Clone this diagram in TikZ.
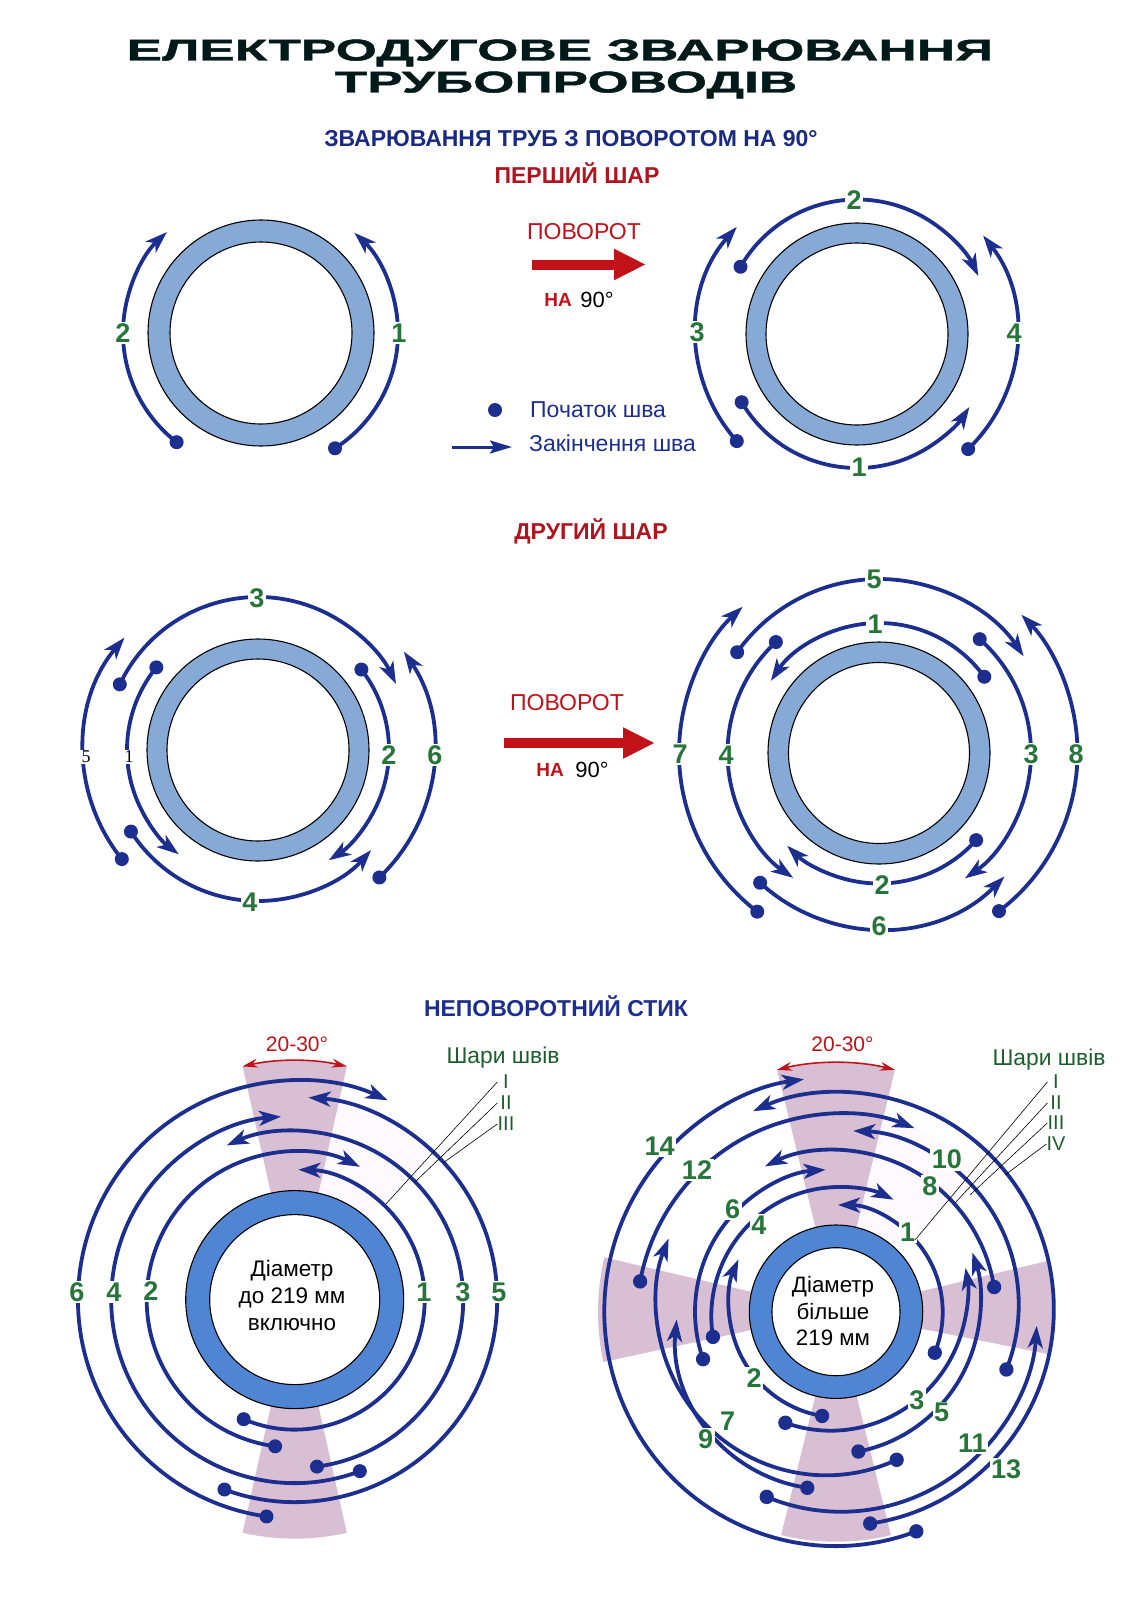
\documentclass[tikz,border=0pt]{standalone}
\usepackage{fontspec}
\setmainfont{Liberation Sans}
\newfontfamily\titlefont[FakeStretch=1.77,FakeBold=1.5]{Liberation Sans}
\newfontfamily\oldnumfont{Liberation Serif}
\usetikzlibrary{arrows.meta}
\definecolor{seamblue}{HTML}{1D2F8E}
\definecolor{numgreen}{HTML}{27753A}
\definecolor{layergreen}{HTML}{1D5F2C}
\definecolor{headred}{HTML}{B0141F}
\definecolor{turnred}{HTML}{C01218}
\definecolor{pipeblue}{HTML}{87A9D6}
\definecolor{pipedeep}{HTML}{4F85D2}
\definecolor{zonepink}{HTML}{D9BFD4}
\definecolor{zonewash}{HTML}{FEF9FC}
\tikzset{
  seamline/.style={line width=3.8pt,seamblue,-{Stealth[length=22pt,width=15pt,inset=6pt]}},
  seamdot/.style={fill=seamblue},
  pipewall/.style={draw=black,line width=1.1pt},
  num/.style={text=numgreen,fill=white,inner sep=1.5pt,font=\fontsize{27}{30}\selectfont\bfseries},
  oldnum/.style={text=black,fill=white,inner sep=1.5pt,font=\fontsize{18}{20}\selectfont\oldnumfont},
  turnarrow/.style={line width=10pt,turnred,-{Triangle[length=32pt,width=29pt]}},
  layerlead/.style={black,line width=0.6pt},
  layernum/.style={text=layergreen,inner sep=0pt,minimum width=17pt,font=\fontsize{20}{20}\selectfont},
  angledim/.style={line width=1.6pt,turnred,{Stealth[length=15pt,width=9pt]}-{Stealth[length=15pt,width=9pt]}}
}
% centre x, centre y, radius, start angle, end angle
\newcommand{\seam}[5]{
  \draw[seamline,shift={(#1,#2)}] (#4:#3) arc[start angle=#4,end angle=#5,radius=#3];
  \fill[seamdot,shift={(#1,#2)}] (#4:#3) circle (7);
}
% sector from the pipe centre: centre, middle angle, half angle, radius
\newcommand{\zone}[6][zonepink]{
  \fill[#1,shift={(#2,#3)}] (0,0) -- (#4-#5:#6) arc[start angle=#4-#5,end angle=#4+#5,radius=#6] -- cycle;
}
\begin{document}
\begin{tikzpicture}[x=1pt,y=1pt,>=Latex]
\useasboundingbox (0,0) rectangle (1131,-1600);
\fill[white] (0,0) rectangle (1131,-1600);

\node[text=black!80!teal,font=\fontsize{30}{32}\selectfont\titlefont\bfseries] (titleone) at (560,-53) {ЕЛЕКТРОДУГОВЕ ЗВАРЮВАННЯ};
\node[text=black!80!teal,font=\fontsize{30}{32}\selectfont\titlefont\bfseries] (titletwo) at (566,-85) {ТРУБОПРОВОДІВ};
\node[text=seamblue!90!black,font=\fontsize{23}{25}\selectfont\bfseries] (rotatehead) at (571,-139) {ЗВАРЮВАННЯ ТРУБ З ПОВОРОТОМ НА 90°};
\node[text=headred,font=\fontsize{23}{25}\selectfont\bfseries] (firsthead) at (577,-173) {ПЕРШИЙ ШАР};
\node[text=headred,font=\fontsize{23}{25}\selectfont\bfseries] (secondhead) at (591,-531) {ДРУГИЙ ШАР};
\node[text=seamblue,font=\fontsize{23}{25}\selectfont\bfseries] (fixedhead) at (556,-1006) {НЕПОВОРОТНИЙ СТИК};

% first layer, before the turn
\filldraw[pipewall,fill=pipeblue] (261,-333) circle (113);
\filldraw[pipewall,fill=white] (261,-333) circle (91);
\seam{261}{-333}{137}{-57.3}{47}
\seam{261}{-333}{138}{232.3}{133}
\node[num] (aone) at (399,-333) {1};
\node[num] (atwo) at (123,-333) {2};

% first layer, after the turn
\filldraw[pipewall,fill=pipeblue] (857,-334) circle (111);
\filldraw[pipewall,fill=white] (857,-334) circle (91);
\seam{857}{-334}{134}{210.6}{327}
\seam{857}{-334}{134.5}{150}{25.6}
\seam{857}{-334}{161}{221.7}{138.3}
\seam{857}{-334}{160}{-46}{38}
\node[num] (bone) at (859,-467) {1};
\node[num] (btwo) at (854,-200) {2};
\node[num] (bthree) at (697,-332) {3};
\node[num] (bfour) at (1014,-333) {4};

\node[text=turnred,font=\fontsize{23}{25}\selectfont] (turnone) at (584,-232) {ПОВОРОТ};
\coordinate (turnonefrom) at (532,-264.5);
\coordinate (turnoneto) at (646,-264.5);
\draw[turnarrow] (turnonefrom) -- (turnoneto);
\node[text=turnred,font=\fontsize{19}{25}\selectfont\bfseries] (turnonena) at (558,-300) {НА};
\node[font=\fontsize{22}{25}\selectfont] (turnonedeg) at (597,-300) {90°};

\fill[seamdot] (495,-410) circle (7);
\node[text=seamblue,anchor=west,inner sep=0pt,font=\fontsize{23}{25}\selectfont] (startnote) at (530,-410) {Початок шва};
\coordinate (notefrom) at (452,-447);
\coordinate (noteto) at (512,-447);
\draw[line width=3pt,seamblue,-{Stealth[length=22pt,width=13pt,inset=4pt]}] (notefrom) -- (noteto);
\node[text=seamblue,anchor=west,inner sep=0pt,font=\fontsize{23}{25}\selectfont] (endnote) at (529,-443) {Закінчення шва};

% second layer, before the turn
\filldraw[pipewall,fill=pipeblue] (258,-750) circle (111);
\filldraw[pipewall,fill=white] (258,-750) circle (91);
\seam{258}{-750}{131}{140.9}{232.8}
\seam{258}{-750}{131}{37.9}{-57.3}
\seam{258}{-750}{153}{154.6}{25.6}
\seam{258}{-750}{151}{212.7}{318.5}
\seam{258}{-750}{174.5}{218.7}{139.9}
\seam{258}{-750}{176}{-46.4}{34}
\node[oldnum] (cone) at (129,-757) {1};
\node[num] (ctwo) at (389,-755) {2};
\node[num] (cthree) at (257,-598) {3};
\node[num] (cfour) at (250,-902) {4};
\node[oldnum] (cfive) at (86,-757) {5};
\node[num] (csix) at (435,-755) {6};

\node[text=turnred,font=\fontsize{23}{25}\selectfont] (turntwo) at (567,-703) {ПОВОРОТ};
\coordinate (turntwofrom) at (504,-743);
\coordinate (turntwoto) at (655,-743);
\draw[turnarrow] (turntwofrom) -- (turntwoto);
\node[text=turnred,font=\fontsize{19}{25}\selectfont\bfseries] (turntwona) at (550,-770) {НА};
\node[font=\fontsize{22}{25}\selectfont] (turntwodeg) at (592,-770) {90°};

% second layer, after the turn
\filldraw[pipewall,fill=pipeblue] (879,-753) circle (111);
\filldraw[pipewall,fill=white] (879,-753) circle (90.5);
\seam{879}{-753}{130}{35.9}{146.3}
\seam{879}{-753}{130.5}{-41.9}{-134.7}
\seam{879}{-753}{152}{48.5}{-55.6}
\seam{879}{-753}{151.5}{132.9}{235.5}
\seam{879}{-753}{174}{144.6}{33.8}
\seam{879}{-753}{176}{227.5}{315.5}
\seam{879}{-753}{200}{232.5}{133}
\seam{879}{-753}{198.5}{-52.8}{44.2}
\node[num] (done) at (875,-624) {1};
\node[num] (dtwo) at (882,-885) {2};
\node[num] (dthree) at (1031,-754) {3};
\node[num] (dfour) at (726,-755) {4};
\node[num] (dfive) at (874,-579) {5};
\node[num] (dsix) at (879,-926) {6};
\node[num] (dseven) at (680,-754) {7};
\node[num] (deight) at (1076,-754) {8};

% joint that stays fixed, small pipe
\zone[zonewash]{294.7}{-1299.6}{62}{15}{204}
\zone{294.7}{-1299.6}{90}{12.6}{239}
\zone{294.7}{-1299.6}{-90}{12.6}{239}
\filldraw[pipewall,fill=pipedeep] (294.7,-1299.6) circle (109);
\filldraw[pipewall,fill=white] (294.7,-1299.6) circle (85);
\seam{294.7}{-1299.6}{130}{-113.1}{88.4}
\seam{294.7}{-1299.6}{148}{262.4}{63.8}
\seam{294.7}{-1299.6}{168.5}{-82.4}{113.8}
\seam{294.7}{-1299.6}{183.5}{290.8}{94.3}
\seam{294.7}{-1299.6}{202.5}{-110.3}{86.1}
\seam{297}{-1299.6}{219}{262}{65.5}
\node[num] (eone) at (424,-1292) {1};
\node[num] (etwo) at (151,-1291) {2};
\node[num] (ethree) at (463,-1292) {3};
\node[num] (efour) at (114,-1292) {4};
\node[num] (efive) at (499,-1292) {5};
\node[num] (esix) at (77,-1292) {6};
\node[align=center,font=\fontsize{22.5}{27}\selectfont] (esize) at (292,-1295) {Діаметр\\до 219 мм\\включно};
\draw[angledim,shift={(294.7,-1299.6)}] (102.6:239) arc[start angle=102.6,end angle=77.4,radius=239];
\node[text=turnred,font=\fontsize{21}{22}\selectfont] (eangle) at (297,-1044) {20-30°};
\node[text=layergreen,font=\fontsize{22.8}{25}\selectfont] (elayers) at (503,-1058) {Шари швів};
\node[layernum] (eI) at (506,-1082) {I};
\node[layernum] (eII) at (506,-1103) {II};
\node[layernum] (eIII) at (506,-1124) {III};
\coordinate (eIend) at (385,-1205);
\coordinate (eIIend) at (415,-1182);
\coordinate (eIIIend) at (443,-1163);
\draw[layerlead] (eI.west) -- (eIend);
\draw[layerlead] (eII.west) -- (eIIend);
\draw[layerlead] (eIII.west) -- (eIIIend);

% joint that stays fixed, large pipe
\zone[zonewash]{836}{-1311.7}{60}{16}{200}
\zone{836}{-1311.7}{90}{13.7}{249}
\zone{836}{-1311.7}{-90}{13.8}{230}
\zone{836}{-1311.7}{179.5}{12.7}{238}
\zone{836}{-1311.7}{1.1}{12.4}{217}
\filldraw[pipewall,fill=pipedeep] (836,-1311.7) circle (86.7);
\filldraw[pipewall,fill=white] (836,-1311.7) circle (64);
\begin{scope}[shift={(590,-1020)},xscale=1.0194,yscale=1.0331,shift={(-590,1020)}]
\seam{832.3}{-1302.7}{103.7}{-22.3}{89.5}
\seam{835.3}{-1295.7}{109}{260.7}{156.2}
\seam{826.2}{-1283.3}{134.2}{-109.4}{10}
\seam{834}{-1306.7}{125}{189.2}{64.5}
\seam{825.7}{-1293}{147.3}{-79.2}{19}
\seam{830.7}{-1302.3}{137.7}{199.5}{94}
\seam{821.7}{-1294}{166.7}{294.5}{158}
\seam{830.3}{-1304.3}{158.3}{9.4}{115.7}
\seam{824.3}{-1324.3}{150}{261.9}{174.5}
\seam{842.3}{-1295.5}{168.3}{-21.9}{88}
\seam{836.3}{-1303.7}{192.3}{-112.3}{-3.7}
\seam{835}{-1310}{199.3}{169.3}{68.4}
\seam{835.3}{-1299.8}{209.7}{-81.9}{114}
\seam{831}{-1302.2}{227}{290.4}{97.9}
\end{scope}
\node[num] (fone) at (907.7,-1231.8) {1};
\node[num] (ftwo) at (754.1,-1378) {2};
\node[num] (fthree) at (916.9,-1399.8) {3};
\node[num] (ffour) at (758.9,-1224.9) {4};
\node[num] (ffive) at (941.7,-1412.6) {5};
\node[num] (fsix) at (732.7,-1208.7) {6};
\node[num] (fseven) at (727.6,-1421) {7};
\node[num] (feight) at (929.8,-1186) {8};
\node[num] (fnine) at (705.5,-1439.4) {9};
\node[num] (ften) at (946.8,-1159.5) {10};
\node[num] (feleven) at (972.3,-1443.6) {11};
\node[num] (ftwelve) at (697,-1169.8) {12};
\node[num] (fthirteen) at (1006.2,-1469.4) {13};
\node[num] (ffourteen) at (659.7,-1145.7) {14};
\node[align=center,font=\fontsize{22.3}{26.5}\selectfont] (fsize) at (833,-1311.5) {Діаметр\\більше\\219 мм};
\draw[angledim,shift={(836,-1311.7)}] (103.7:249) arc[start angle=103.7,end angle=76.3,radius=249];
\node[text=turnred,font=\fontsize{21}{22}\selectfont] (fangle) at (842.5,-1044) {20-30°};
\node[text=layergreen,font=\fontsize{22.8}{25}\selectfont] (flayers) at (1049,-1060) {Шари швів};
\node[layernum] (fI) at (1056,-1082) {I};
\node[layernum] (fII) at (1056,-1103) {II};
\node[layernum] (fIII) at (1056,-1123) {III};
\node[layernum] (fIV) at (1056,-1144) {IV};
\coordinate (fIend) at (915,-1240);
\coordinate (fIIend) at (955,-1203);
\coordinate (fIIIend) at (970,-1195);
\coordinate (fIVend) at (1005,-1175);
\draw[layerlead] (fI.west) -- (fIend);
\draw[layerlead] (fII.west) -- (fIIend);
\draw[layerlead] (fIII.west) -- (fIIIend);
\draw[layerlead] (fIV.west) -- (fIVend);
\end{tikzpicture}
\end{document}
